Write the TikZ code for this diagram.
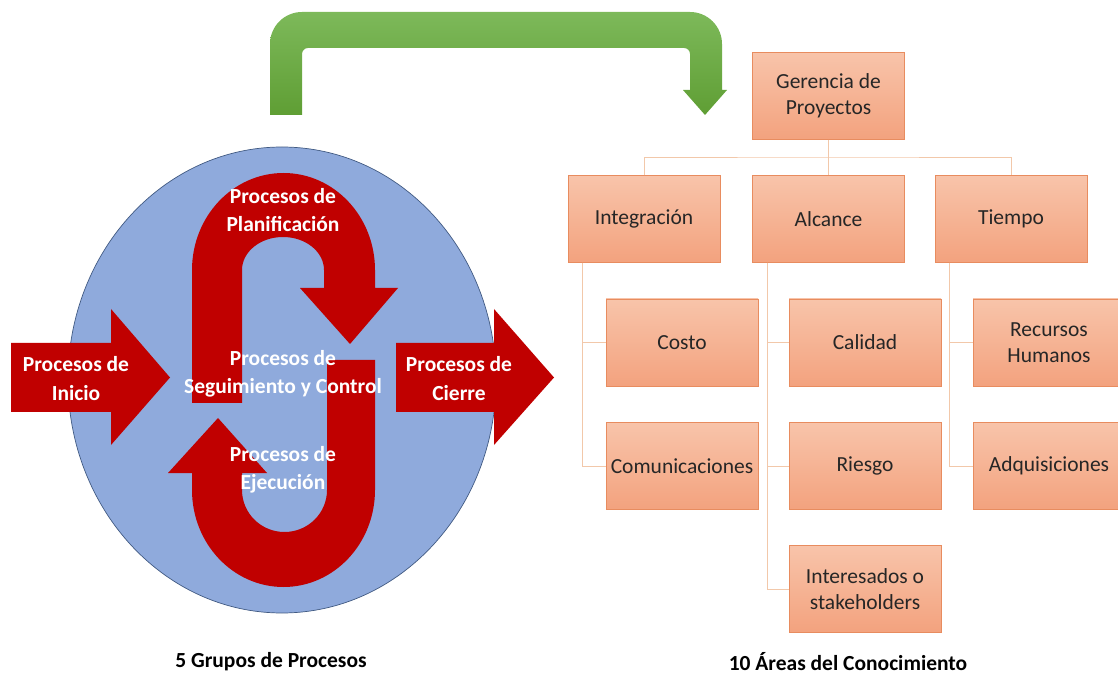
\documentclass[tikz,border=0pt]{standalone}
\usepackage{fontspec}
\setmainfont{Carlito}
\usetikzlibrary{shapes.geometric}
\definecolor{procred}{RGB}{192,0,0}
\definecolor{circfill}{RGB}{143,170,220}
\definecolor{circline}{RGB}{65,90,130}
\definecolor{boxtop}{RGB}{248,196,170}
\definecolor{boxbot}{RGB}{243,162,126}
\definecolor{boxline}{RGB}{232,140,95}
\definecolor{linkcol}{RGB}{242,200,170}
\definecolor{greentop}{RGB}{125,185,90}
\definecolor{greenbot}{RGB}{95,158,52}
\begin{document}
\begin{tikzpicture}[x=1pt, y=1pt]
	\tikzstyle{area}=[rectangle, draw=boxline, top color=boxtop, bottom color=boxbot, minimum width=152pt, minimum height=87pt, align=center, text=black!85, font=\fontsize{21.5}{26}\selectfont]
	\tikzstyle{proc}=[text=white, align=center, font=\bfseries\fontsize{21.5}{28.5}\selectfont]
	\tikzstyle{link}=[draw=linkcol, line width=0.9pt]
	\tikzstyle{title}=[font=\bfseries\fontsize{21.5}{24}\selectfont, text=black]
	\useasboundingbox (0, 0) rectangle (1118, 675);

	\draw node[ellipse, draw=circline, fill=circfill, line width=0.7pt, minimum width=428pt, minimum height=466pt] at (282, 295) (grupos) {};

	\shade[top color=greentop, bottom color=greenbot] (270, 560) -- (270, 631) arc[start angle=180, end angle=90, radius=32pt] -- (690, 663) arc[start angle=90, end angle=0, radius=32pt] -- (722, 585) -- (727, 585) -- (705, 560) -- (683, 585) -- (690, 585) -- (690, 621) arc[start angle=0, end angle=90, radius=6pt] -- (308, 627) arc[start angle=90, end angle=180, radius=6pt] -- (302, 560) -- cycle;

	\fill[procred] (11, 263) -- (11, 332) -- (111, 332) -- (111, 366) -- (170, 297.5) -- (111, 230) -- (111, 263) -- cycle;
	\fill[procred] (396, 263) -- (396, 332) -- (494, 332) -- (494, 366) -- (554, 297.5) -- (494, 230) -- (494, 263) -- cycle;
	\fill[procred] (192, 272) -- (192, 405) arc[start angle=180, end angle=0, x radius=91.5pt, y radius=97pt] -- (375, 387) -- (398, 387) -- (350, 331) -- (300, 387) -- (324, 387) -- (324, 405) arc[start angle=0, end angle=180, x radius=41pt, y radius=33pt] -- (242, 272) -- cycle;
	\fill[procred] (327, 315) -- (375, 315) -- (375, 185) arc[start angle=0, end angle=-180, x radius=91.5pt, y radius=97pt] -- (192, 202) -- (168, 202) -- (218, 257) -- (267, 202) -- (242, 202) -- (242, 185) arc[start angle=180, end angle=360, x radius=42.5pt, y radius=42pt] -- cycle;

	\draw node[proc] at (76, 296.5) (inicio) {Procesos de\\Inicio};
	\draw node[proc] at (459, 296.5) (cierre) {Procesos de\\Cierre};
	\draw node[proc] at (283, 465) (plan) {Procesos de\\Planificación};
	\draw node[proc] at (283, 301) (control) {Procesos de\\Seguimiento y Control};
	\draw node[proc] at (283, 205) (ejec) {Procesos de\\Ejecución};

	\draw node[area] at (828.5, 579) (ger) {Gerencia de\\Proyectos};
	\draw node[area] at (644, 456) (integ) {Integración};
	\draw node[area] at (828.5, 456) (alc) {Alcance};
	\draw node[area] at (1011, 456) (tiempo) {Tiempo};
	\draw node[area] at (682, 332.5) (costo) {Costo};
	\draw node[area] at (682, 209) (comu) {Comunicaciones};
	\draw node[area] at (865, 332.5) (cal) {Calidad};
	\draw node[area] at (865, 209) (riesgo) {Riesgo};
	\draw node[area] at (865, 86) (inter) {Interesados o\\stakeholders};
	\draw node[area] at (1049, 332.5) (rrhh) {Recursos\\Humanos};
	\draw node[area] at (1049, 209) (adq) {Adquisiciones};

	\coordinate (bar) at (828.5, 518);
	\draw[link] (ger.south) -- (alc.north);
	\draw[link] (integ.north) |- (bar) -| (tiempo.north);
	\draw[link] ([xshift=15pt]integ.south west) |- (comu.west);
	\draw[link] ([xshift=15pt]integ.south west) |- (costo.west);
	\draw[link] ([xshift=15pt]alc.south west) |- (inter.west);
	\draw[link] ([xshift=15pt]alc.south west) |- (cal.west);
	\draw[link] ([xshift=15pt]alc.south west) |- (riesgo.west);
	\draw[link] ([xshift=15pt]tiempo.south west) |- (adq.west);
	\draw[link] ([xshift=15pt]tiempo.south west) |- (rrhh.west);

	\draw node[title] at (271, 13) (lgrupos) {5 Grupos de Procesos};
	\draw node[title] at (848, 13) (lareas) {10 Áreas del Conocimiento};
\end{tikzpicture}
\end{document}
